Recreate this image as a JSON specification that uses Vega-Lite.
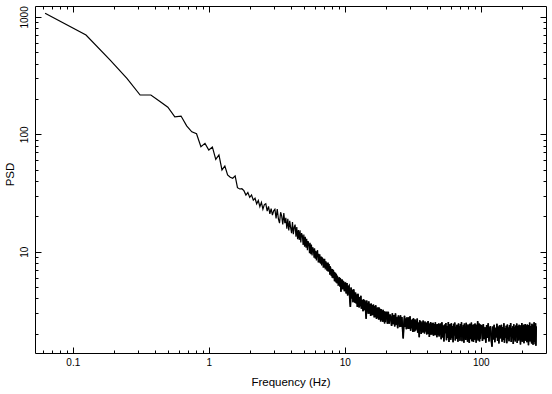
{
"$schema": "https://vega.github.io/schema/vega-lite/v6.json",
"width": 511, "height": 347,
"autosize": {"type": "none"},
"padding": {"left": 35, "top": 6, "right": 6, "bottom": 41},
"background": "white",
"config": {"view": {"stroke": null}, "axis": {"ticks": true, "domainColor": "black", "tickColor": "black", "tickOpacity": 1, "labelColor": "black", "titleColor": "black", "labelFont": "Liberation Sans", "titleFont": "Liberation Sans", "labelFontSize": 10, "titleFontSize": 11.5, "titleFontWeight": "normal", "grid": false, "domainWidth": 1, "tickWidth": 1}},
"data": {"values": [
{"f":0.0625,"p":1073},{"f":0.125,"p":701},{"f":0.1875,"p":430},{"f":0.25,"p":300},{"f":0.3125,"p":216},{"f":0.375,"p":216},{"f":0.4375,"p":190},{"f":0.5,"p":170},{"f":0.5625,"p":141},{"f":0.625,"p":143},{"f":0.6875,"p":118},{"f":0.75,"p":105},{"f":0.8125,"p":101},{"f":0.875,"p":78.4},{"f":0.9375,"p":83.7},{"f":1.0,"p":73.5},{"f":1.0625,"p":78},{"f":1.125,"p":61.2},{"f":1.1875,"p":66.7},{"f":1.25,"p":49.7},{"f":1.3125,"p":53.7},{"f":1.375,"p":45.0},{"f":1.4375,"p":43.0},{"f":1.5,"p":42.2},{"f":1.5625,"p":44.2},{"f":1.625,"p":35.1},{"f":1.6875,"p":34.2},{"f":1.75,"p":34.4},{"f":1.8125,"p":33.1},{"f":1.875,"p":30.4},{"f":1.9375,"p":31.9},{"f":2.0,"p":29.0},{"f":2.0625,"p":30.4},{"f":2.125,"p":27.5},{"f":2.1875,"p":28.5},{"f":2.25,"p":25.6},{"f":2.3125,"p":27.3},{"f":2.375,"p":24.2},{"f":2.4375,"p":26.3},{"f":2.5,"p":23.0},{"f":2.5625,"p":25.2},{"f":2.625,"p":25.6},{"f":2.6875,"p":22.2},{"f":2.75,"p":24.3},{"f":2.8125,"p":21.0},{"f":2.875,"p":23.3},{"f":2.9375,"p":20.5},{"f":3.0,"p":22.3},
{"f":3.0625,"p":23.0},{"f":3.125,"p":19.2},{"f":3.1875,"p":23.1},{"f":3.25,"p":19.0},{"f":3.3125,"p":17.5},{"f":3.375,"p":21.7},{"f":3.4375,"p":20.1},{"f":3.5,"p":17.1},{"f":3.5625,"p":21.3},{"f":3.625,"p":17.5},{"f":3.6875,"p":19.4},{"f":3.75,"p":15.7},{"f":3.8125,"p":19.1},{"f":3.875,"p":15.2},{"f":3.9375,"p":18.3},{"f":4.0,"p":16.0},
{"f":4.0625,"p":14.4},{"f":4.125,"p":17.9},{"f":4.1875,"p":14.1},{"f":4.25,"p":16.2},{"f":4.3125,"p":17.0},{"f":4.375,"p":13.4},{"f":4.4375,"p":16.2},{"f":4.5,"p":12.8},{"f":4.5625,"p":15.3},{"f":4.625,"p":12.6},{"f":4.6875,"p":15.2},{"f":4.75,"p":12.0},{"f":4.8125,"p":14.4},{"f":4.875,"p":13.8},{"f":4.9375,"p":11.4},{"f":5.0,"p":14.0},
{"f":5.0625,"p":11.0},{"f":5.125,"p":13.4},{"f":5.1875,"p":10.8},{"f":5.25,"p":12.9},{"f":5.3125,"p":10.3},{"f":5.375,"p":12.3},{"f":5.4375,"p":11.8},{"f":5.5,"p":9.7},{"f":5.5625,"p":11.9},{"f":5.625,"p":9.5},{"f":5.6875,"p":11.5},{"f":5.75,"p":9.3},{"f":5.8125,"p":10.9},{"f":5.875,"p":10.5},{"f":5.9375,"p":8.9},{"f":6.0,"p":10.7},
{"f":6.0625,"p":8.7},{"f":6.125,"p":10.2},{"f":6.1875,"p":8.4},{"f":6.25,"p":9.85},{"f":6.3125,"p":10.3},{"f":6.375,"p":8.1},{"f":6.4375,"p":9.6},{"f":6.5,"p":8.05},{"f":6.5625,"p":9.5},{"f":6.625,"p":7.9},{"f":6.6875,"p":9.1},{"f":6.75,"p":7.65},{"f":6.8125,"p":8.9},{"f":6.875,"p":8.8},{"f":6.9375,"p":7.3},{"f":7.0,"p":8.7},
{"f":7.0625,"p":7.3},{"f":7.125,"p":8.7},{"f":7.1875,"p":7.05},{"f":7.25,"p":8.3},{"f":7.3125,"p":8.05},{"f":7.375,"p":6.9},{"f":7.4375,"p":8.1},{"f":7.5,"p":6.8},{"f":7.5625,"p":8.1},{"f":7.625,"p":6.75},{"f":7.6875,"p":7.85},{"f":7.75,"p":6.35},{"f":7.8125,"p":7.5},{"f":7.875,"p":7.35},{"f":7.9375,"p":6.2},{"f":8.0,"p":7.15},
{"f":8.0625,"p":6.0},{"f":8.125,"p":7.1},{"f":8.1875,"p":5.95},{"f":8.25,"p":7.0},{"f":8.3125,"p":6.75},{"f":8.375,"p":5.6},{"f":8.4375,"p":6.7},{"f":8.5,"p":5.55},{"f":8.5625,"p":6.6},{"f":8.625,"p":5.45},{"f":8.6875,"p":6.5},{"f":8.75,"p":5.35},{"f":8.8125,"p":6.25},{"f":8.875,"p":6.1},{"f":8.9375,"p":5.1},{"f":9.0,"p":6.0},
{"f":9.0625,"p":5.2},{"f":9.125,"p":6.05},{"f":9.1875,"p":5.05},{"f":9.25,"p":5.95},{"f":9.3125,"p":5.8},{"f":9.375,"p":4.55},{"f":9.4375,"p":5.7},{"f":9.5,"p":4.85},{"f":9.5625,"p":5.8},{"f":9.625,"p":4.8},{"f":9.6875,"p":5.65},{"f":9.75,"p":4.8},{"f":9.8125,"p":5.55},{"f":9.875,"p":5.4},{"f":9.9375,"p":4.6},{"f":10.0,"p":5.3},
{"f":10.125,"p":5.38},{"f":10.25,"p":4.41},{"f":10.375,"p":5.41},{"f":10.5,"p":4.23},{"f":10.625,"p":4.97},{"f":10.75,"p":5.09},{"f":10.875,"p":4.01},{"f":11.0,"p":3.38},{"f":11.125,"p":4.94},{"f":11.25,"p":3.99},{"f":11.375,"p":4.73},{"f":11.5,"p":3.72},{"f":11.625,"p":4.78},{"f":11.75,"p":4.26},{"f":11.875,"p":3.68},{"f":12.0,"p":4.49},
{"f":12.125,"p":3.63},{"f":12.25,"p":4.31},{"f":12.375,"p":3.39},{"f":12.5,"p":4.37},{"f":12.625,"p":4.05},{"f":12.75,"p":3.35},{"f":12.875,"p":4.11},{"f":13.0,"p":3.43},{"f":13.125,"p":4.22},{"f":13.25,"p":3.27},{"f":13.375,"p":3.88},{"f":13.5,"p":3.71},{"f":13.625,"p":3.11},{"f":13.75,"p":3.94},{"f":13.875,"p":3.17},{"f":14.0,"p":3.85},
{"f":14.125,"p":3.69},{"f":14.25,"p":3.08},{"f":14.375,"p":2.68},{"f":14.5,"p":3.83},{"f":14.625,"p":3.09},{"f":14.75,"p":3.65},{"f":14.875,"p":2.96},{"f":15.0,"p":3.77},{"f":15.125,"p":3.45},{"f":15.25,"p":2.97},{"f":15.375,"p":3.59},{"f":15.5,"p":2.84},{"f":15.625,"p":3.61},{"f":15.75,"p":3.42},{"f":15.875,"p":2.87},{"f":16.0,"p":3.52},
{"f":16.125,"p":2.9},{"f":16.25,"p":3.55},{"f":16.375,"p":3.03},{"f":16.5,"p":2.76},{"f":16.625,"p":3.44},{"f":16.75,"p":2.77},{"f":16.875,"p":3.5},{"f":17.0,"p":3.23},{"f":17.125,"p":2.67},{"f":17.25,"p":3.32},{"f":17.375,"p":2.74},{"f":17.5,"p":3.35},{"f":17.625,"p":3.07},{"f":17.75,"p":2.64},{"f":17.875,"p":3.34},{"f":18.0,"p":2.64},
{"f":18.125,"p":3.26},{"f":18.25,"p":3.07},{"f":18.375,"p":2.55},{"f":18.5,"p":3.24},{"f":18.625,"p":2.62},{"f":18.75,"p":3.13},{"f":18.875,"p":2.97},{"f":19.0,"p":2.53},{"f":19.125,"p":3.2},{"f":19.25,"p":2.54},{"f":19.375,"p":3.1},{"f":19.5,"p":2.97},{"f":19.625,"p":2.45},{"f":19.75,"p":3.09},{"f":19.875,"p":2.52},{"f":20.0,"p":2.99},
{"f":20.3,"p":3.03},{"f":20.6,"p":2.44},{"f":20.9,"p":3.07},{"f":21.2,"p":2.44},{"f":21.5,"p":2.92},{"f":21.8,"p":2.74},{"f":22.1,"p":2.33},{"f":22.4,"p":2.99},{"f":22.7,"p":2.41},{"f":23.0,"p":2.88},
{"f":23.3,"p":2.31},{"f":23.6,"p":2.98},{"f":23.9,"p":2.39},{"f":24.2,"p":2.76},{"f":24.5,"p":2.23},{"f":24.8,"p":2.86},{"f":25.1,"p":2.65},{"f":25.4,"p":2.28},{"f":25.7,"p":2.87},{"f":26.0,"p":2.3},
{"f":26.3,"p":2.77},{"f":26.6,"p":2.2},{"f":26.9,"p":1.82},{"f":27.2,"p":2.39},{"f":27.5,"p":2.84},{"f":27.8,"p":2.28},{"f":28.1,"p":2.7},{"f":28.4,"p":2.19},{"f":28.7,"p":2.76},{"f":29.0,"p":2.5},
{"f":29.3,"p":2.2},{"f":29.6,"p":2.76},{"f":29.9,"p":2.21},{"f":30.2,"p":2.82},{"f":30.5,"p":2.12},{"f":30.8,"p":2.6},{"f":31.1,"p":2.23},{"f":31.4,"p":2.66},{"f":31.7,"p":2.07},{"f":32.0,"p":2.71},
{"f":32.3,"p":2.49},{"f":32.6,"p":2.09},{"f":32.9,"p":2.64},{"f":33.2,"p":2.13},{"f":33.5,"p":2.58},{"f":33.8,"p":2.19},{"f":34.1,"p":2.69},{"f":34.4,"p":2.04},{"f":34.7,"p":2.49},{"f":35.0,"p":2.29},
{"f":35.3,"p":1.87},{"f":35.6,"p":2.61},{"f":35.9,"p":2.11},{"f":36.2,"p":2.55},{"f":36.5,"p":1.99},{"f":36.8,"p":2.49},{"f":37.1,"p":2.32},{"f":37.4,"p":2.05},{"f":37.7,"p":2.59},{"f":38.0,"p":2.06},
{"f":38.3,"p":2.44},{"f":38.6,"p":2.01},{"f":38.9,"p":2.54},{"f":39.2,"p":2.09},{"f":39.5,"p":2.47},{"f":39.8,"p":2.35},{"f":40.1,"p":1.97},{"f":40.4,"p":2.51},{"f":40.7,"p":2.03},{"f":41.0,"p":2.57},
{"f":41.3,"p":1.99},{"f":41.6,"p":2.37},{"f":41.9,"p":1.88},{"f":42.2,"p":2.45},{"f":42.5,"p":2.03},{"f":42.8,"p":2.52},{"f":43.1,"p":1.96},{"f":43.4,"p":2.4},{"f":43.7,"p":2.15},{"f":44.0,"p":2.46},
{"f":44.3,"p":1.97},{"f":44.6,"p":2.48},{"f":44.9,"p":1.92},{"f":45.2,"p":2.35},{"f":45.5,"p":2.02},{"f":45.8,"p":2.42},{"f":46.1,"p":1.94},{"f":46.4,"p":2.5},{"f":46.7,"p":1.97},{"f":47.0,"p":2.26},
{"f":47.3,"p":2.38},{"f":47.6,"p":1.87},{"f":47.9,"p":2.42},{"f":48.2,"p":1.95},{"f":48.5,"p":2.34},{"f":48.8,"p":2.02},{"f":49.1,"p":2.45},{"f":49.4,"p":1.9},{"f":49.7,"p":2.38},{"f":50.0,"p":1.97},
{"f":50.6,"p":2.44},{"f":51.2,"p":1.8},{"f":51.8,"p":2.5},{"f":52.4,"p":1.86},{"f":53.0,"p":2.35},{"f":53.6,"p":1.72},{"f":54.2,"p":2.4},{"f":54.8,"p":2.02},{"f":55.4,"p":2.47},{"f":56.0,"p":1.76},
{"f":56.6,"p":2.31},{"f":57.2,"p":1.84},{"f":57.8,"p":2.52},{"f":58.4,"p":1.7},{"f":59.0,"p":2.27},{"f":59.6,"p":2.41},{"f":60.2,"p":1.78},{"f":60.8,"p":2.46},{"f":61.4,"p":1.85},{"f":62.0,"p":2.33},
{"f":62.6,"p":1.69},{"f":63.2,"p":2.43},{"f":63.8,"p":1.93},{"f":64.4,"p":2.49},{"f":65.0,"p":1.75},{"f":65.6,"p":2.29},{"f":66.2,"p":1.81},{"f":66.8,"p":2.38},{"f":67.4,"p":2.05},{"f":68.0,"p":1.71},
{"f":68.6,"p":2.45},{"f":69.2,"p":1.83},{"f":69.8,"p":2.32},{"f":70.4,"p":1.74},{"f":71.0,"p":2.42},{"f":71.6,"p":1.88},{"f":72.2,"p":2.5},{"f":72.8,"p":1.73},{"f":73.4,"p":2.28},{"f":74.0,"p":1.98},
{"f":74.6,"p":2.37},{"f":75.2,"p":1.68},{"f":75.8,"p":2.44},{"f":76.4,"p":1.82},{"f":77.0,"p":2.3},{"f":77.6,"p":1.77},{"f":78.2,"p":2.48},{"f":78.8,"p":1.86},{"f":79.4,"p":2.24},{"f":80.0,"p":1.71},
{"f":80.6,"p":2.4},{"f":81.2,"p":1.95},{"f":81.8,"p":2.34},{"f":82.4,"p":1.67},{"f":83.0,"p":2.43},{"f":83.6,"p":1.8},{"f":84.2,"p":2.28},{"f":84.8,"p":2.01},{"f":85.4,"p":2.49},{"f":86.0,"p":1.73},
{"f":86.6,"p":2.33},{"f":87.2,"p":1.84},{"f":87.8,"p":2.39},{"f":88.4,"p":1.7},{"f":89.0,"p":2.26},{"f":89.6,"p":2.41},{"f":90.2,"p":1.78},{"f":90.8,"p":2.45},{"f":91.4,"p":1.87},{"f":92.0,"p":2.31},
{"f":92.6,"p":1.68},{"f":93.2,"p":2.38},{"f":93.8,"p":1.82},{"f":94.4,"p":2.29},{"f":95.0,"p":2.56},{"f":95.6,"p":1.75},{"f":96.2,"p":2.35},{"f":96.8,"p":1.89},{"f":97.4,"p":2.44},{"f":98.0,"p":1.72},
{"f":98.6,"p":2.27},{"f":99.2,"p":1.81},{"f":99.8,"p":2.36},
{"f":101.5,"p":2.34},{"f":103.0,"p":1.74},{"f":104.5,"p":2.42},{"f":106.0,"p":1.8},{"f":107.5,"p":2.27},{"f":109.0,"p":1.68},{"f":110.5,"p":2.37},{"f":112.0,"p":1.84},{"f":113.5,"p":2.45},{"f":115.0,"p":1.72},
{"f":116.5,"p":2.22},{"f":118.0,"p":2.32},{"f":119.5,"p":1.76},{"f":121.0,"p":1.55},{"f":122.5,"p":2.3},{"f":124.0,"p":1.79},{"f":125.5,"p":2.39},{"f":127.0,"p":1.69},{"f":128.5,"p":2.25},{"f":130.0,"p":1.86},
{"f":131.5,"p":2.43},{"f":133.0,"p":1.74},{"f":134.5,"p":2.3},{"f":136.0,"p":1.65},{"f":137.5,"p":2.36},{"f":139.0,"p":1.82},{"f":140.5,"p":2.21},{"f":142.0,"p":2.38},{"f":143.5,"p":1.71},{"f":145.0,"p":2.28},
{"f":146.5,"p":1.77},{"f":148.0,"p":2.46},{"f":149.5,"p":1.68},{"f":151.0,"p":2.24},{"f":152.5,"p":1.85},{"f":154.0,"p":2.34},{"f":155.5,"p":1.66},{"f":157.0,"p":2.4},{"f":158.5,"p":1.8},{"f":160.0,"p":2.26},
{"f":161.5,"p":1.73},{"f":163.0,"p":2.37},{"f":164.5,"p":1.9},{"f":166.0,"p":2.47},{"f":167.5,"p":1.7},{"f":169.0,"p":2.23},{"f":170.5,"p":1.83},{"f":172.0,"p":2.32},{"f":173.5,"p":1.64},{"f":175.0,"p":2.41},
{"f":176.5,"p":1.78},{"f":178.0,"p":2.28},{"f":179.5,"p":1.72},{"f":181.0,"p":2.35},{"f":182.5,"p":1.87},{"f":184.0,"p":2.44},{"f":185.5,"p":1.67},{"f":187.0,"p":2.2},{"f":188.5,"p":2.33},{"f":190.0,"p":1.75},
{"f":191.5,"p":2.39},{"f":193.0,"p":1.81},{"f":194.5,"p":2.25},{"f":196.0,"p":1.62},{"f":197.5,"p":2.36},{"f":199.0,"p":1.84},{"f":200.5,"p":2.47},{"f":202.0,"p":1.71},{"f":203.5,"p":2.22},{"f":205.0,"p":1.77},
{"f":206.5,"p":2.38},{"f":208.0,"p":1.66},{"f":209.5,"p":2.3},{"f":211.0,"p":1.86},{"f":212.5,"p":2.42},{"f":214.0,"p":1.74},{"f":215.5,"p":2.24},{"f":217.0,"p":2.35},{"f":218.5,"p":1.69},{"f":220.0,"p":2.4},
{"f":221.5,"p":1.82},{"f":223.0,"p":2.27},{"f":224.5,"p":1.6},{"f":226.0,"p":2.37},{"f":227.5,"p":1.8},{"f":229.0,"p":2.49},{"f":230.5,"p":1.72},{"f":232.0,"p":2.23},{"f":233.5,"p":1.87},{"f":235.0,"p":2.33},
{"f":236.5,"p":1.65},{"f":238.0,"p":2.43},{"f":239.5,"p":1.76},{"f":241.0,"p":2.28},{"f":242.5,"p":1.61},{"f":244.0,"p":2.38},{"f":245.5,"p":1.84},{"f":247.0,"p":2.5},{"f":248.5,"p":1.7},{"f":250.0,"p":2.26},
{"f":251.5,"p":1.63},{"f":253.0,"p":2.46},{"f":254.5,"p":1.58},{"f":256.0,"p":2.31}
]},
"layer": [
{"mark": {"type": "line", "color": "black", "strokeWidth": 1.2, "clip": true},
 "encoding": {
  "x": {"field": "f", "type": "quantitative", "scale": {"type": "log", "domain": [0.0527, 302], "nice": false},
   "axis": {"orient": "bottom", "values": [0.1,1,10,100], "labelExpr": "datum.value==0.1?'0.1':datum.value==1?'1':datum.value==10?'10':'100'",
    "ticks": false, "tickSize": 0, "labelPadding": 4, "labelOverlap": false, "labelFlush": false, "labelBound": false,
    "title": "Frequency (Hz)", "titlePadding": 9}},
  "y": {"field": "p", "type": "quantitative", "scale": {"type": "log", "domain": [1.371, 1238], "nice": false},
   "axis": {"orient": "left", "values": [10,100,1000], "labelExpr": "datum.value==10?'10':datum.value==100?'100':'1000'",
    "ticks": false, "tickSize": 0, "labelAngle": -90, "labelAlign": "center", "labelBaseline": "bottom",
    "labelPadding": 6, "labelOverlap": false, "labelFlush": false, "labelBound": false,
    "title": "PSD", "titlePadding": 4, "titleY": 168}}
 }},
{"transform": [{"filter": "datum.f >= 9"}],
 "mark": {"type": "line", "color": "black", "strokeWidth": 1.6, "clip": true},
 "encoding": {
  "x": {"field": "f", "type": "quantitative", "scale": {"type": "log", "domain": [0.0527, 302], "nice": false}, "axis": null},
  "y": {"field": "p", "type": "quantitative", "scale": {"type": "log", "domain": [1.371, 1238], "nice": false}, "axis": null}
 }},
{"mark": {"type": "line", "opacity": 0},
 "encoding": {
  "x": {"field": "f", "type": "quantitative", "scale": {"type": "log", "domain": [0.0527, 302], "nice": false},
   "axis": {"orient": "bottom", "values": [0.1,1,10,100], "ticks": true, "tickColor": "black", "offset": -6, "tickSize": 6, "domain": false, "labels": false, "title": null}},
  "y": {"field": "p", "type": "quantitative", "scale": {"type": "log", "domain": [1.371, 1238], "nice": false},
   "axis": {"orient": "left", "values": [10,100,1000], "ticks": true, "tickColor": "black", "offset": -6, "tickSize": 6, "domain": false, "labels": false, "title": null}}
 }},
{"mark": {"type": "line", "opacity": 0},
 "encoding": {
  "x": {"field": "f", "type": "quantitative", "scale": {"type": "log", "domain": [0.0527, 302], "nice": false},
   "axis": {"orient": "bottom", "values": [0.06,0.07,0.08,0.09,0.2,0.3,0.4,0.5,0.6,0.7,0.8,0.9,2,3,4,5,6,7,8,9,20,30,40,50,60,70,80,90,200], "ticks": true, "tickColor": "black", "offset": -3, "tickSize": 3, "domain": false, "labels": false, "title": null}},
  "y": {"field": "p", "type": "quantitative", "scale": {"type": "log", "domain": [1.371, 1238], "nice": false},
   "axis": {"orient": "left", "values": [2,3,4,5,6,7,8,9,20,30,40,50,60,70,80,90,200,300,400,500,600,700,800,900], "ticks": true, "tickColor": "black", "offset": -3, "tickSize": 3, "domain": false, "labels": false, "title": null}}
 }},
{"mark": {"type": "line", "opacity": 0},
 "encoding": {
  "x": {"field": "f", "type": "quantitative", "scale": {"type": "log", "domain": [0.0527, 302], "nice": false},
   "axis": {"orient": "top", "ticks": false, "labels": false, "title": null}},
  "y": {"field": "p", "type": "quantitative", "scale": {"type": "log", "domain": [1.371, 1238], "nice": false},
   "axis": {"orient": "right", "ticks": false, "labels": false, "title": null}}
 }},
{"mark": {"type": "line", "opacity": 0},
 "encoding": {
  "x": {"field": "f", "type": "quantitative", "scale": {"type": "log", "domain": [0.0527, 302], "nice": false},
   "axis": {"orient": "top", "values": [0.1,1,10,100], "ticks": true, "tickColor": "black", "offset": -6, "tickSize": 6, "domain": false, "labels": false, "title": null}},
  "y": {"field": "p", "type": "quantitative", "scale": {"type": "log", "domain": [1.371, 1238], "nice": false},
   "axis": {"orient": "right", "values": [10,100,1000], "ticks": true, "tickColor": "black", "offset": -6, "tickSize": 6, "domain": false, "labels": false, "title": null}}
 }},
{"mark": {"type": "line", "opacity": 0},
 "encoding": {
  "x": {"field": "f", "type": "quantitative", "scale": {"type": "log", "domain": [0.0527, 302], "nice": false},
   "axis": {"orient": "top", "values": [0.06,0.07,0.08,0.09,0.2,0.3,0.4,0.5,0.6,0.7,0.8,0.9,2,3,4,5,6,7,8,9,20,30,40,50,60,70,80,90,200], "ticks": true, "tickColor": "black", "offset": -3, "tickSize": 3, "domain": false, "labels": false, "title": null}},
  "y": {"field": "p", "type": "quantitative", "scale": {"type": "log", "domain": [1.371, 1238], "nice": false},
   "axis": {"orient": "right", "values": [2,3,4,5,6,7,8,9,20,30,40,50,60,70,80,90,200,300,400,500,600,700,800,900], "ticks": true, "tickColor": "black", "offset": -3, "tickSize": 3, "domain": false, "labels": false, "title": null}}
 }}
],
"resolve": {"axis": {"x": "independent", "y": "independent"}}
}
